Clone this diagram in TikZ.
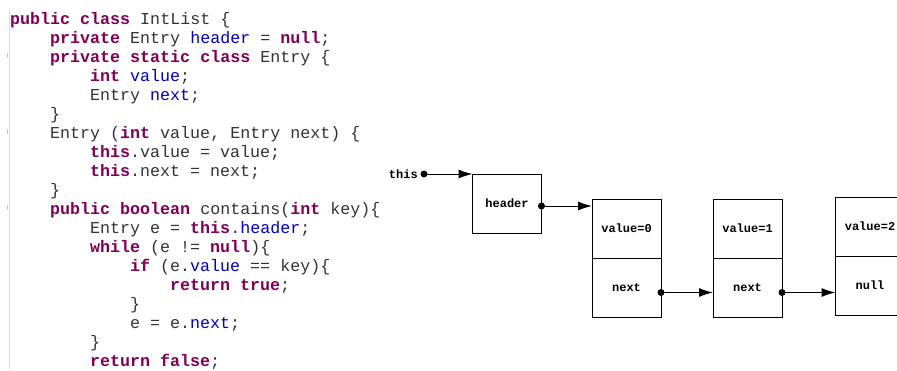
\documentclass[tikz,border=0pt]{standalone}
\usepackage{fontspec}
\setmonofont{Liberation Mono}
\usepackage{xcolor}
\usetikzlibrary{
  arrows.meta,
  positioning
}
\definecolor{kwpurple}{RGB}{127,0,85}
\definecolor{fldblue}{RGB}{0,0,192}
\newcommand{\kw}[1]{\textcolor{kwpurple}{\textbf{#1}}}
\newcommand{\fld}[1]{\textcolor{fldblue}{#1}}

\begin{document}
\begin{tikzpicture}[
    x=1pt, y=-1pt,
    code/.style={anchor=base west, inner sep=0pt, text=black!80,
                 font=\fontsize{16.67}{19}\selectfont\ttfamily},
    cell/.style={draw, line width=1pt, minimum width=69pt, minimum height=59pt,
                 inner sep=0pt, outer sep=0pt,
                 font=\fontsize{12}{14}\selectfont\ttfamily\bfseries},
    lbl/.style={inner sep=0pt, font=\fontsize{12}{14}\selectfont\ttfamily\bfseries},
    dot/.style={circle, fill, inner sep=0pt, minimum size=7pt},
    ptr/.style={-{Latex[length=14pt,width=9pt]}, line width=1pt}
  ]
    \clip (0,0) rectangle (897,370);
    % editor gutter
    \draw[black!12] (9,10) -- (9,370);
    \foreach \fy in {53,129,205}
      \draw[blue!25, line width=1pt] (7.5,\fy) -- (7.5,\fy+5);
    % source code
    \node[code] (c1)  at (10,24)  {\kw{public} \kw{class} IntList \{};
    \node[code] (c2)  at (50,43)  {\kw{private} Entry \fld{header} = \kw{null};};
    \node[code] (c3)  at (50,62)  {\kw{private} \kw{static} \kw{class} Entry \{};
    \node[code] (c4)  at (90,81)  {\kw{int} \fld{value};};
    \node[code] (c5)  at (90,100) {Entry \fld{next};};
    \node[code] (c6)  at (50,119) {\}};
    \node[code] (c7)  at (50,138) {Entry (\kw{int} value, Entry next) \{};
    \node[code] (c8)  at (90,157) {\kw{this}.value = value;};
    \node[code] (c9)  at (90,176) {\kw{this}.next = next;};
    \node[code] (c10) at (50,195) {\}};
    \node[code] (c11) at (50,214) {\kw{public} \kw{boolean} contains(\kw{int} key)\{};
    \node[code] (c12) at (90,233) {Entry e = \kw{this}.\fld{header};};
    \node[code] (c13) at (90,252) {\kw{while} (e != \kw{null})\{};
    \node[code] (c14) at (130,271) {\kw{if} (e.\fld{value} == key)\{};
    \node[code] (c15) at (170,290) {\kw{return} \kw{true};};
    \node[code] (c16) at (130,309) {\}};
    \node[code] (c17) at (130,328) {e = e.\fld{next};};
    \node[code] (c18) at (90,347) {\}};
    \node[code] (c19) at (90,366) {\kw{return} \kw{false};};
    % list diagram
    \node[lbl, anchor=east] (thislbl) at (418,174) {this};
    \node[dot] (thisdot) at (424,174) {};
    \node[cell] (header) at (507,203.5) {header};
    \node[cell] (v0) at (626.5,228.5) {value=0};
    \node[cell, below=0pt of v0] (n0) {next};
    \node[cell] (v1) at (747.5,228.5) {value=1};
    \node[cell, below=0pt of v1] (n1) {next};
    \node[cell] (v2) at (870,226.5) {value=2};
    \node[cell, below=0pt of v2] (n2) {null};
    \node[dot] (hdot) at ([yshift=-2.5pt]header.east) {};
    \node[dot] (d0) at ([yshift=-5pt]n0.east) {};
    \node[dot] (d1) at ([yshift=-5pt]n1.east) {};
    \draw[ptr] (thisdot.center) -- (thisdot.center -| header.west);
    \draw[ptr] (hdot.center) -- (hdot.center -| v0.west);
    \draw[ptr] (d0.center) -- (d0.center -| n1.west);
    \draw[ptr] (d1.center) -- (d1.center -| n2.west);
\end{tikzpicture}
\end{document}
